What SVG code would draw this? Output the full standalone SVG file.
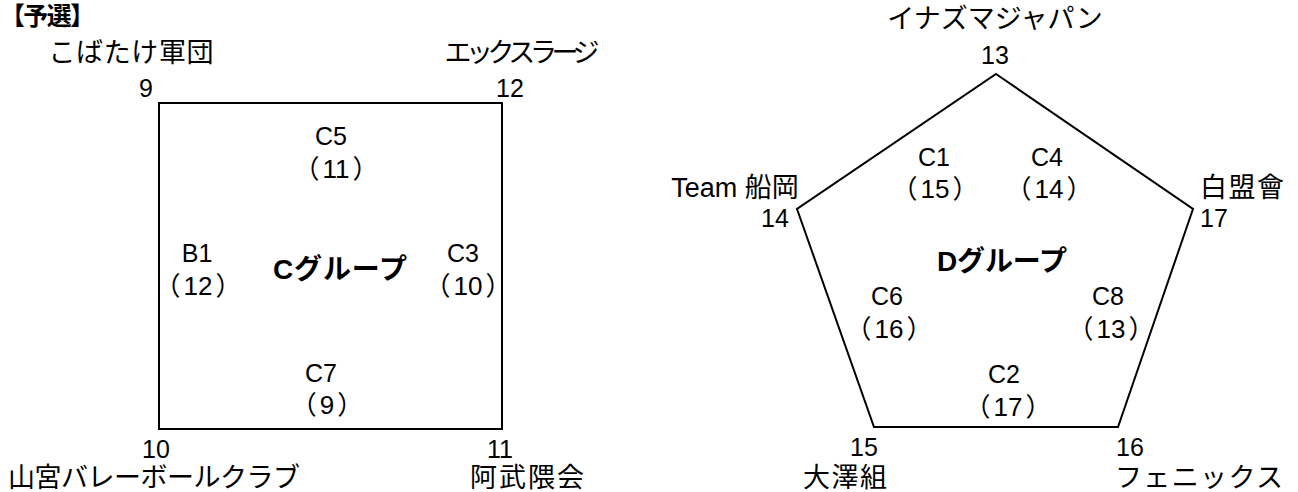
<svg xmlns="http://www.w3.org/2000/svg" width="1298" height="492" viewBox="0 0 1298 492">
<style>
text{font-family:"Liberation Sans","Noto Sans CJK JP",sans-serif;font-size:25px;fill:#000;text-anchor:middle}
.n{font-size:27px}
.b{font-weight:bold;font-size:28px}
.p{font-size:26px}
.shape{fill:none;stroke:#000;stroke-width:2}
</style>
<rect width="1298" height="492" fill="#fff"/>
<text class="b" x="0" y="25" style="text-anchor:start;font-size:25px" textLength="95">【予選】</text>
<g id="groupC">
<rect class="shape" x="159" y="103" width="343" height="326"/>
<text class="b" x="340" y="279" textLength="134">Cグループ</text>
</g>
<g id="team9"><text class="n" x="131" y="62" textLength="165">こばたけ軍団</text><text x="146" y="97">9</text></g>
<g id="team12"><text class="n" x="522" y="62" textLength="155">エックスラージ</text><text x="510" y="97">12</text></g>
<g id="team10"><text x="156" y="458">10</text><text class="n" x="154" y="487" textLength="292">山宮バレーボールクラブ</text></g>
<g id="team11"><text x="500" y="458">11</text><text class="n" x="527" y="487" textLength="114">阿武隈会</text></g>
<g id="matchC5"><text x="331" y="145">C5</text><text class="p" x="336" y="178">（<tspan dx="3">11</tspan><tspan dx="3">）</tspan></text></g>
<g id="matchB1"><text x="197" y="262">B1</text><text class="p" x="198" y="295">（<tspan dx="3">12</tspan><tspan dx="3">）</tspan></text></g>
<g id="matchC3"><text x="463" y="262">C3</text><text class="p" x="468" y="295">（<tspan dx="3">10</tspan><tspan dx="3">）</tspan></text></g>
<g id="matchC7"><text x="321" y="382">C7</text><text class="p" x="327" y="414">（<tspan dx="3">9</tspan><tspan dx="3">）</tspan></text></g>
<g id="groupD">
<polygon class="shape" points="996,74 1193,209 1118,427 874,427 797,209"/>
<text class="b" x="1002" y="271" textLength="130">Dグループ</text>
</g>
<g id="team13"><text class="n" x="995" y="28">イナズマジャパン</text><text x="995" y="64">13</text></g>
<g id="team14"><text class="n" x="735" y="197">Team 船岡</text><text x="775" y="227">14</text></g>
<g id="team17"><text class="n" x="1242" y="197" textLength="84">白盟會</text><text x="1214" y="227">17</text></g>
<g id="team15"><text x="864" y="456">15</text><text class="n" x="845" y="487" textLength="84">大澤組</text></g>
<g id="team16"><text x="1130" y="456">16</text><text class="n" x="1199" y="487" textLength="168">フェニックス</text></g>
<g id="matchC1"><text x="934" y="166">C1</text><text class="p" x="935" y="198">（<tspan dx="3">15</tspan><tspan dx="3">）</tspan></text></g>
<g id="matchC4"><text x="1047" y="166">C4</text><text class="p" x="1049" y="198">（<tspan dx="3">14</tspan><tspan dx="3">）</tspan></text></g>
<g id="matchC6"><text x="887" y="305">C6</text><text class="p" x="889" y="338">（<tspan dx="3">16</tspan><tspan dx="3">）</tspan></text></g>
<g id="matchC8"><text x="1108" y="305">C8</text><text class="p" x="1111" y="338">（<tspan dx="3">13</tspan><tspan dx="3">）</tspan></text></g>
<g id="matchC2"><text x="1004" y="383">C2</text><text class="p" x="1008" y="416">（<tspan dx="3">17</tspan><tspan dx="3">）</tspan></text></g>
<g id="connectors"></g>
</svg>
